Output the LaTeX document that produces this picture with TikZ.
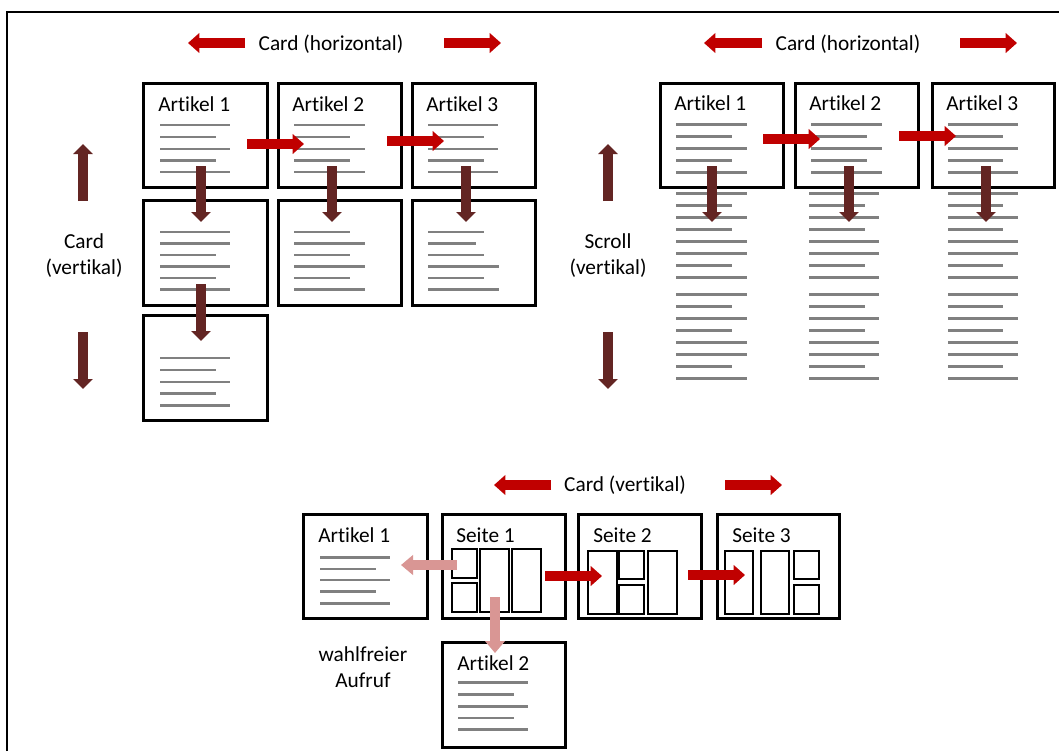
\documentclass[tikz,border=0pt]{standalone}
\usepackage{fontspec}
\setmainfont{Carlito}[Ligatures=NoCommon]
\usetikzlibrary{arrows.meta,fit}
\definecolor{bred}{HTML}{C00000}
\definecolor{dred}{HTML}{632523}
\definecolor{pred}{HTML}{D99694}
\definecolor{lgray}{HTML}{808080}
\begin{document}
\begin{tikzpicture}[x=0.75pt,y=-0.75pt,
 card/.style={draw=black, line width=2.25pt, inner sep=0pt, fill=white},
 innerbox/.style={draw=black, line width=1pt},
 title/.style={anchor=base west, inner sep=0pt, font=\fontsize{16}{19}\selectfont},
 lbl/.style={align=center, inner sep=0pt, font=\fontsize{16}{19.5}\selectfont},
 gl/.style={draw=lgray, line width=2pt},
 harrow/.style={draw=bred, line width=7.5pt, -{Triangle[length=8.5pt,width=14.5pt]}},
 varrow/.style={draw=dred, line width=7.5pt, -{Triangle[length=7.5pt,width=14.5pt]}},
 parrow/.style={draw=pred, line width=7pt, -{Triangle[length=9pt,width=14.5pt]}},
]
\useasboundingbox (0,0) rectangle (1059,751);
\draw[line width=1.5pt] (7,751) -- (7,12) -- (1059,12);

% ---------- top left: cards ----------
\node[card, fit={(143,83)(267,187)}] (tA1) {};
\node[card, fit={(278,83)(401,187)}] (tA2) {};
\node[card, fit={(412,83)(535,187)}] (tA3) {};
\node[card, fit={(143,200)(267,305)}] (tB1) {};
\node[card, fit={(278,200)(401,305)}] (tB2) {};
\node[card, fit={(412,200)(535,305)}] (tB3) {};
\node[card, fit={(143,315)(267,420)}] (tC1) {};
\node[title] (tt1) at (158,111) {Artikel 1};
\node[title] (tt2) at (292,111) {Artikel 2};
\node[title] (tt3) at (426,111) {Artikel 3};

\foreach \y/\e in {125/230,137/216,149/230,160.5/216,172/230} \draw[gl] (160,\y) -- (\e,\y);
\foreach \y/\e in {125/365,137/350,149/365,160.5/350,172/365} \draw[gl] (294,\y) -- (\e,\y);
\foreach \y/\e in {125/498,137/484,149/498,160.5/484,172/498} \draw[gl] (428,\y) -- (\e,\y);
\foreach \y/\e in {232/230,243.5/230,255/216,266.5/230,278/216,289.5/230} \draw[gl] (160,\y) -- (\e,\y);
\foreach \y/\e in {232/350,243.5/365,255/350,266.5/365,278/350,289.5/365} \draw[gl] (294,\y) -- (\e,\y);
\foreach \y/\e in {232/484,243.5/476,255/484,266.5/499,278/484,289.5/499} \draw[gl] (428,\y) -- (\e,\y);
\foreach \y/\e in {358/230,370/216,382/230,393.5/216,405.5/230} \draw[gl] (160,\y) -- (\e,\y);

\coordinate (h1s) at (247,144); \coordinate (h1e) at (304,144);
\coordinate (h2s) at (387,141); \coordinate (h2e) at (444,141);
\draw[harrow] (h1s) -- (h1e);
\draw[harrow] (h2s) -- (h2e);
\coordinate (d1s) at (201,166); \coordinate (d1e) at (201,222);
\coordinate (d2s) at (332,166); \coordinate (d2e) at (332,222);
\coordinate (d3s) at (466,166); \coordinate (d3e) at (466,222);
\coordinate (d4s) at (201,284); \coordinate (d4e) at (201,341);
\draw[varrow] (d1s) -- (d1e);
\draw[varrow] (d2s) -- (d2e);
\draw[varrow] (d3s) -- (d3e);
\draw[varrow] (d4s) -- (d4e);

% left vertical legend
\coordinate (lu1) at (83,201); \coordinate (lu2) at (83,144);
\coordinate (ld1) at (83,332); \coordinate (ld2) at (83,389);
\draw[varrow] (lu1) -- (lu2);
\draw[varrow] (ld1) -- (ld2);
\node[lbl] (lcv) at (84,256) {Card\\(vertikal)};

% top-left horizontal legend
\coordinate (tl1) at (245,43); \coordinate (tl2) at (188,43);
\coordinate (tr1) at (444,43); \coordinate (tr2) at (501,43);
\draw[harrow] (tl1) -- (tl2);
\draw[harrow] (tr1) -- (tr2);
\node[lbl, anchor=base] (lch1) at (331,50) {Card (horizontal)};

% ---------- top right: scroll ----------
\foreach \y/\e in {193.7/747,205.7/732,217.3/747,229.7/732,241.7/747,253.7/747,265.7/732,277.7/747,294.3/747,306.3/732,318.3/747,330.3/732,342.3/747,354.3/747,366.3/732,378.3/747} \draw[gl] (676,\y) -- (\e,\y);
\foreach \y/\e in {193.7/879,205.7/865,217.3/879,229.7/865,241.7/879,253.7/879,265.7/865,277.7/879,294.3/879,306.3/865,318.3/879,330.3/865,342.3/879,354.3/879,366.3/865,378.3/879} \draw[gl] (809,\y) -- (\e,\y);
\foreach \y/\e in {193.7/1018,205.7/1003,217.3/1018,229.7/1003,241.7/1018,253.7/1018,265.7/1003,277.7/1018,294.3/1018,306.3/1003,318.3/1018,330.3/1003,342.3/1018,354.3/1018,366.3/1003,378.3/1018} \draw[gl] (948,\y) -- (\e,\y);

\node[card, fit={(660,83)(783,187)}] (rA1) {};
\node[card, fit={(795,83)(918,187)}] (rA2) {};
\node[card, fit={(932,83)(1054,187)}] (rA3) {};
\node[title] (rt1) at (674,110) {Artikel 1};
\node[title] (rt2) at (809,110) {Artikel 2};
\node[title] (rt3) at (946,110) {Artikel 3};
\foreach \y/\e in {124.5/747,136.5/732,148.5/747,160.5/732,172.5/747} \draw[gl] (676,\y) -- (\e,\y);
\foreach \y/\e in {124.5/882,136.5/867,148.5/882,160.5/867,172.5/882} \draw[gl] (811,\y) -- (\e,\y);
\foreach \y/\e in {124.5/1018,136.5/1003,148.5/1018,160.5/1003,172.5/1018} \draw[gl] (948,\y) -- (\e,\y);

\coordinate (rh1s) at (763,139); \coordinate (rh1e) at (820,139);
\coordinate (rh2s) at (899,136); \coordinate (rh2e) at (956,136);
\draw[harrow] (rh1s) -- (rh1e);
\draw[harrow] (rh2s) -- (rh2e);
\coordinate (rd1s) at (712,166); \coordinate (rd1e) at (712,222);
\coordinate (rd2s) at (849,166); \coordinate (rd2e) at (849,222);
\coordinate (rd3s) at (986,166); \coordinate (rd3e) at (986,222);
\draw[varrow] (rd1s) -- (rd1e);
\draw[varrow] (rd2s) -- (rd2e);
\draw[varrow] (rd3s) -- (rd3e);

\coordinate (su1) at (608,201); \coordinate (su2) at (608,144);
\coordinate (sd1) at (608,332); \coordinate (sd2) at (608,389);
\draw[varrow] (su1) -- (su2);
\draw[varrow] (sd1) -- (sd2);
\node[lbl] (lsv) at (608,256) {Scroll\\(vertikal)};

\coordinate (rl1) at (762,43); \coordinate (rl2) at (704,43);
\coordinate (rr1) at (960,43); \coordinate (rr2) at (1017,43);
\draw[harrow] (rl1) -- (rl2);
\draw[harrow] (rr1) -- (rr2);
\node[lbl, anchor=base] (lch2) at (848,50) {Card (horizontal)};

% ---------- bottom: pages ----------
\coordinate (bl1) at (551,485); \coordinate (bl2) at (494,485);
\coordinate (br1) at (725,485); \coordinate (br2) at (782,485);
\draw[harrow] (bl1) -- (bl2);
\draw[harrow] (br1) -- (br2);
\node[lbl, anchor=base] (lcv2) at (625,491) {Card (vertikal)};

\node[card, fit={(303,514)(427,618)}] (bA1) {};
\node[card, fit={(442,514)(565,618)}] (bS1) {};
\node[card, fit={(578,514)(701,618)}] (bS2) {};
\node[card, fit={(717,514)(839,618)}] (bS3) {};
\node[card, fit={(442,642)(565,747)}] (bA2) {};
\node[title] (bt1) at (318,542) {Artikel 1};
\node[title] (bt2) at (456,542) {Seite 1};
\node[title] (bt3) at (593,542) {Seite 2};
\node[title] (bt4) at (732,542) {Seite 3};
\node[title] (bt5) at (457,670) {Artikel 2};

\foreach \y/\e in {557.3/390,569/376,580/390,591.7/376,603.3/390} \draw[gl] (320,\y) -- (\e,\y);
\foreach \y/\e in {682.7/528,694.7/514,706.3/528,718/514,729.7/528} \draw[gl] (458,\y) -- (\e,\y);

\draw[innerbox] (452,549) rectangle (477,578);
\draw[innerbox] (452,583) rectangle (477,612);
\draw[innerbox] (480,549) rectangle (509,612);
\draw[innerbox] (512,549) rectangle (541,612);
\draw[innerbox] (588,551) rectangle (617,614);
\draw[innerbox] (619,551) rectangle (644,579);
\draw[innerbox] (619,585) rectangle (644,614);
\draw[innerbox] (648,551) rectangle (677,614);
\draw[innerbox] (725,551) rectangle (753,614);
\draw[innerbox] (761,551) rectangle (789,614);
\draw[innerbox] (794,551) rectangle (819,579);
\draw[innerbox] (794,585) rectangle (819,614);

\coordinate (bh1s) at (545,576); \coordinate (bh1e) at (602,576);
\coordinate (bh2s) at (688,575); \coordinate (bh2e) at (745,575);
\draw[harrow] (bh1s) -- (bh1e);
\draw[harrow] (bh2s) -- (bh2e);
\coordinate (p1s) at (457,565); \coordinate (p1e) at (401,565);
\coordinate (p2s) at (495,597); \coordinate (p2e) at (495,653);
\draw[parrow] (p1s) -- (p1e);
\draw[parrow] (p2s) -- (p2e);
\node[lbl] (lwa) at (363,667) {wahlfreier\\Aufruf};
\end{tikzpicture}
\end{document}
